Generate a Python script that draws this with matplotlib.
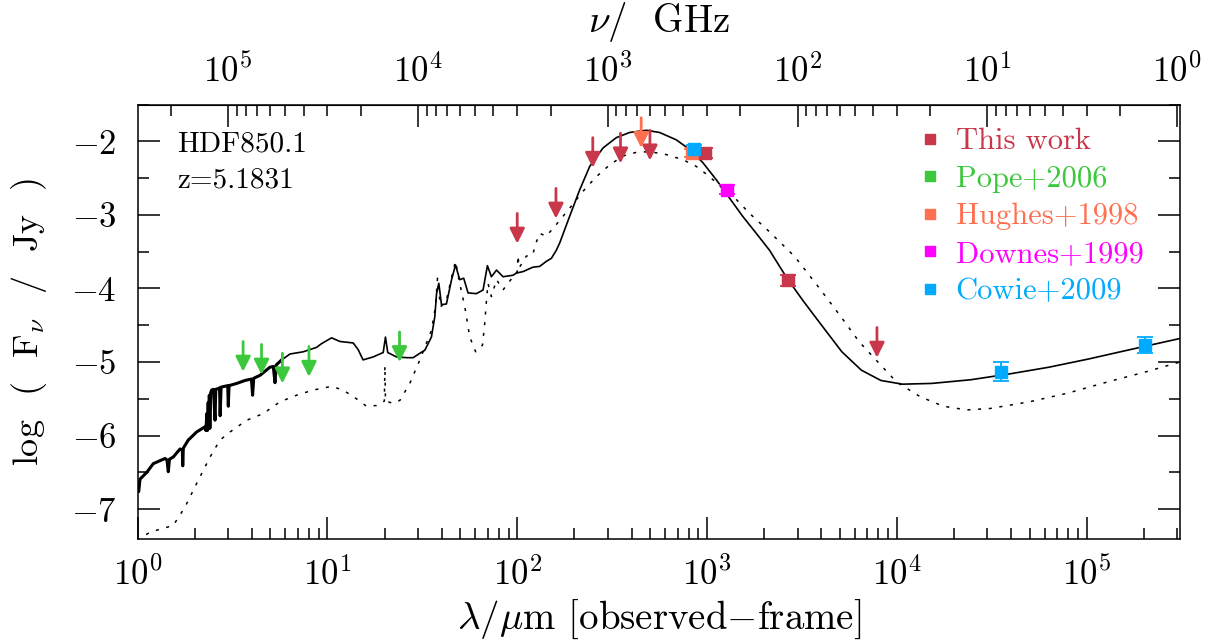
import numpy as np
import matplotlib
matplotlib.use('Agg')
import matplotlib.pyplot as plt
from matplotlib.lines import Line2D
from matplotlib.ticker import MultipleLocator, FixedLocator

plt.rcParams['font.family'] = ['cmr10', 'DejaVu Serif']
plt.rcParams['mathtext.fontset'] = 'cm'
plt.rcParams['axes.formatter.use_mathtext'] = True

C_UM_GHZ = 299792.458  # lambda[um] * nu[GHz]

# best-fit SED (solid), log10(lambda/um) and log10(F_nu/Jy)
solid_loglam = [0.000, 0.006, 0.013, 0.048, 0.083, 0.118, 0.145, 0.155, 0.162, 0.168, 0.188,
                0.224, 0.236, 0.238, 0.241, 0.267, 0.311, 0.355, 0.360, 0.365, 0.368, 0.372,
                0.375, 0.378, 0.381, 0.385, 0.390, 0.400, 0.408, 0.412, 0.425, 0.432, 0.435,
                0.440, 0.475, 0.478, 0.482, 0.522, 0.566, 0.600, 0.606, 0.612, 0.645, 0.697,
                0.715, 0.724, 0.730, 0.759, 0.803, 0.873, 0.943, 0.969, 1.022, 1.066, 1.136,
                1.162, 1.188, 1.241, 1.294, 1.306, 1.318, 1.364, 1.420, 1.452, 1.487, 1.513,
                1.548, 1.566, 1.575, 1.587, 1.601, 1.627, 1.654, 1.675, 1.697, 1.718, 1.741,
                1.785, 1.820, 1.843, 1.864, 1.891, 1.925, 1.978, 1.996, 2.031, 2.083, 2.118,
                2.154, 2.180, 2.206, 2.224, 2.276, 2.329, 2.382, 2.452, 2.522, 2.592, 2.680,
                2.750, 2.838, 2.908, 2.978, 3.048, 3.118, 3.188, 3.259, 3.329, 3.421, 3.504,
                3.580, 3.710, 3.813, 3.916, 4.029, 4.183, 4.389, 4.595, 4.800, 5.006, 5.212,
                5.490]
solid_logf = [-6.70, -6.76, -6.59, -6.50, -6.38, -6.34, -6.31, -6.33, -6.49, -6.32, -6.29,
              -6.18, -6.20, -6.41, -6.17, -6.06, -5.95, -5.88, -5.93, -5.70, -5.93, -5.55,
              -5.90, -5.45, -5.90, -5.42, -5.38, -5.37, -5.79, -5.37, -5.36, -5.35, -5.73,
              -5.34, -5.32, -5.60, -5.32, -5.29, -5.25, -5.23, -5.45, -5.22, -5.18, -5.07,
              -5.06, -5.28, -5.04, -4.97, -4.89, -4.86, -4.80, -4.75, -4.67, -4.72, -4.74,
              -4.83, -4.97, -4.93, -4.87, -4.66, -4.87, -4.93, -4.94, -4.94, -4.88, -4.84,
              -4.66, -4.38, -4.07, -3.93, -4.22, -4.21, -3.88, -3.68, -3.88, -3.86, -4.06,
              -4.07, -4.02, -3.69, -3.84, -3.75, -3.84, -3.82, -3.79, -3.77, -3.71, -3.70,
              -3.63, -3.59, -3.48, -3.38, -3.02, -2.66, -2.34, -2.09, -1.95, -1.88, -1.85,
              -1.88, -1.98, -2.11, -2.29, -2.52, -2.77, -3.02, -3.25, -3.48, -3.86, -4.16,
              -4.42, -4.86, -5.11, -5.25, -5.30, -5.29, -5.24, -5.16, -5.07, -4.96, -4.84,
              -4.68]

# comparison template (dotted)
dotted_loglam = [0.000, 0.013, 0.066, 0.188, 0.250, 0.311, 0.382, 0.434, 0.487, 0.575, 0.662,
                 0.750, 0.838, 0.925, 1.022, 1.083, 1.154, 1.206, 1.259, 1.300, 1.303, 1.306,
                 1.346, 1.382, 1.434, 1.487, 1.548, 1.569, 1.580, 1.596, 1.627, 1.654, 1.675,
                 1.697, 1.724, 1.750, 1.781, 1.817, 1.829, 1.838, 1.846, 1.864, 1.891, 1.925,
                 1.978, 2.000, 2.004, 2.010, 2.048, 2.083, 2.092, 2.118, 2.153, 2.206, 2.276,
                 2.346, 2.417, 2.487, 2.557, 2.627, 2.697, 2.785, 2.873, 2.943, 3.013, 3.083,
                 3.154, 3.224, 3.329, 3.463, 3.587, 3.710, 3.800, 3.875, 3.998, 4.122, 4.245,
                 4.368, 4.492, 4.697, 4.903, 5.109, 5.315, 5.490]
dotted_logf = [-7.43, -7.40, -7.31, -7.22, -6.97, -6.65, -6.29, -6.06, -5.95, -5.79, -5.70,
               -5.54, -5.45, -5.38, -5.33, -5.38, -5.50, -5.60, -5.59, -5.53, -5.05, -5.53,
               -5.56, -5.52, -5.29, -4.97, -4.57, -4.25, -3.86, -4.25, -4.16, -3.85, -3.63,
               -3.93, -4.25, -4.66, -4.86, -4.77, -4.47, -4.16, -3.93, -4.11, -3.88, -4.02,
               -3.84, -3.77, -3.55, -3.72, -3.56, -3.54, -3.43, -3.25, -3.29, -3.13, -2.91,
               -2.68, -2.48, -2.32, -2.20, -2.15, -2.14, -2.18, -2.25, -2.34, -2.48, -2.64,
               -2.79, -2.98, -3.23, -3.57, -3.98, -4.40, -4.72, -4.93, -5.27, -5.47, -5.60,
               -5.65, -5.63, -5.54, -5.42, -5.27, -5.13, -5.00]

# photometry: detections (log lambda, log F, error) and upper limits
this_lam = [2.987, 3.424]
this_f = [-2.16, -3.89]
this_err = [0.07, 0.07]
this_lim_lam = [2.000, 2.204, 2.398, 2.544, 2.699, 3.895]
this_lim_f = [-2.98, -2.64, -1.95, -1.89, -1.85, -4.53]

pope_lim_lam = [0.556, 0.653, 0.763, 0.903, 1.380]
pope_lim_f = [-4.72, -4.76, -4.88, -4.79, -4.59]

hughes_lam = [2.920]
hughes_f = [-2.16]
hughes_err = [0.05]
hughes_lim_lam = [2.653]
hughes_lim_f = [-1.68]

downes_lam = [3.104]
downes_f = [-2.66]
downes_err = [0.06]

cowie_lam = [2.929, 4.547, 5.308]
cowie_f = [-2.10, -5.13, -4.77]
cowie_err = [0.05, 0.13, 0.11]

labels = ['This work', 'Pope+2006', 'Hughes+1998', 'Downes+1999', 'Cowie+2009']
colors = ['#c8374a', '#3cc83c', '#ff7050', '#ff00ff', '#00aaff']

nu_major = [1e5, 1e4, 1e3, 1e2, 1e1, 1e0]
nu_minor = [m * 10.0 ** e for e in range(0, 6) for m in range(2, 10)]

ARROW_LEN = 0.41


def lam_to_nu(x):
    x = np.asarray(x, dtype=float)
    return C_UM_GHZ / np.where(x == 0, 1e-30, x)


def add_limits(to_ax, loglam, logf, color):
    for lx, ly in zip(loglam, logf):
        to_ax.annotate('', xy=(10 ** lx, ly - ARROW_LEN), xytext=(10 ** lx, ly),
                       arrowprops=dict(arrowstyle='-|>,head_length=0.6,head_width=0.3',
                                       color=color, lw=2.0, shrinkA=0, shrinkB=0,
                                       mutation_scale=15), zorder=4)


def add_points(to_ax, loglam, logf, err, color):
    to_ax.errorbar(10 ** np.array(loglam), logf, yerr=err, fmt='s', color=color, ms=8,
                   capsize=6, elinewidth=1.3, capthick=1.3, zorder=5)


fig = plt.figure(figsize=(12.13, 6.44), dpi=100)
ax = fig.add_axes([0.1134, 0.1635, 0.8594, 0.6742])

ax.plot(10 ** np.array(dotted_loglam), dotted_logf, color='black', lw=1.1, ls=(0, (2, 5)))
ax.plot(10 ** np.array(solid_loglam), solid_logf, color='black', lw=1.2)
# dense stellar absorption part drawn heavier
stellar = np.array(solid_loglam) < 0.76
ax.plot(10 ** np.array(solid_loglam)[stellar], np.array(solid_logf)[stellar], color='black', lw=2.2)

add_limits(ax, pope_lim_lam, pope_lim_f, colors[1])
add_limits(ax, this_lim_lam, this_lim_f, colors[0])
add_limits(ax, hughes_lim_lam, hughes_lim_f, colors[2])
add_points(ax, hughes_lam, hughes_f, hughes_err, colors[2])
add_points(ax, this_lam, this_f, this_err, colors[0])
add_points(ax, downes_lam, downes_f, downes_err, colors[3])
add_points(ax, cowie_lam, cowie_f, cowie_err, colors[4])

ax.set_xscale('log')
ax.set_xlim(1, 3.1e5)
ax.set_ylim(-7.4, -1.5)
ax.yaxis.set_major_locator(MultipleLocator(1))
ax.yaxis.set_minor_locator(MultipleLocator(0.5))
ax.tick_params(which='both', direction='in', top=False, right=True, width=1.1)
ax.tick_params(which='major', length=16, labelsize=25)
ax.tick_params(which='minor', length=8)
ax.tick_params(axis='x', pad=13)
ax.tick_params(axis='y', pad=15)
for s in ax.spines.values():
    s.set_linewidth(1.1)

secax = ax.secondary_xaxis('top', functions=(lam_to_nu, lam_to_nu))
secax.xaxis.set_major_locator(FixedLocator(nu_major))
secax.xaxis.set_minor_locator(FixedLocator(nu_minor))
secax.tick_params(which='both', direction='in', width=1.1)
secax.tick_params(which='major', length=16, labelsize=25, pad=11)
secax.tick_params(which='minor', length=8)
secax.set_xlabel(r'$\nu$/  GHz', fontsize=28, labelpad=16)

ax.set_xlabel(r'$\lambda/\mu$m [observed$-$frame]', fontsize=28, labelpad=4)
ax.set_ylabel(r'log  (  F$_\nu$  /  Jy  )', fontsize=26, labelpad=16)

ax.text(0.038, 0.891, 'HDF850.1', transform=ax.transAxes, fontsize=21, va='baseline')
ax.text(0.038, 0.808, 'z=5.1831', transform=ax.transAxes, fontsize=21, va='baseline')

handles = [Line2D([], [], marker='s', ls='none', color=c, ms=7.5) for c in colors]
ax.legend(handles, labels, loc='upper left', bbox_to_anchor=(0.751, 0.946), frameon=False,
          fontsize=22, labelcolor=colors, handlelength=0.6, handletextpad=0.55,
          labelspacing=0.33, borderaxespad=0, borderpad=0)

fig.savefig('out.png', dpi=100)
